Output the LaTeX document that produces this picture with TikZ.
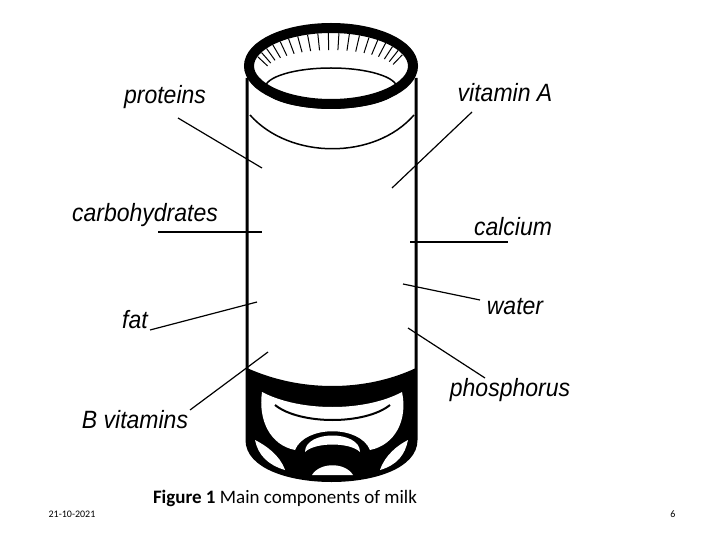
\documentclass[tikz,border=0pt]{standalone}
\usepackage{fontspec}
\setmainfont{Liberation Sans}
\newfontfamily\carlitofont{Carlito}
\begin{document}
\begin{tikzpicture}[x=1pt,y=-1pt,
  lab/.style={font=\itshape\fontsize{25}{27}\selectfont,inner sep=0pt,xscale=0.92},
  ptr/.style={line width=1.2pt}]
\useasboundingbox (0,0) rectangle (720,540);
% bottom dark region
\fill[black] (247,368) .. controls (300,392) and (365,392) .. (416,368) -- (416,440) .. controls (416,494) and (247,494) .. (247,440) -- cycle;
\fill[white] (262,392) .. controls (300,412) and (365,412) .. (402,392) .. controls (408,420) and (395,445) .. (370,450) .. controls (360,425) and (305,425) .. (295,450) .. controls (270,445) and (258,420) .. (262,392) -- cycle;
\fill[white] (305,452) .. controls (305,430) and (360,430) .. (360,452) .. controls (350,442) and (315,442) .. (305,452) -- cycle;
\fill[white] (255,440) .. controls (265,445) and (280,455) .. (285,470) .. controls (268,465) and (258,455) .. (255,440) -- cycle;
\fill[white] (408,440) .. controls (398,445) and (385,455) .. (380,470) .. controls (397,465) and (405,455) .. (408,440) -- cycle;
\fill[white] (312,475) .. controls (320,462) and (345,462) .. (353,475) -- cycle;
\draw[black,line width=2pt] (275,405) .. controls (300,425) and (365,425) .. (390,405);
% body
\draw[line width=3pt] (247,78) -- (247,440) .. controls (247,494) and (416,494) .. (416,440) -- (416,78);
% rim
\draw[line width=10pt] (331,66) ellipse [x radius=82, y radius=38];
\draw[line width=1.5pt] (331,88) ellipse [x radius=66, y radius=20];
\foreach \a in {20,28,...,164}{\draw[line width=1pt] ({331+76*cos(\a)},{66-33*sin(\a)}) -- ({331+66*cos(\a)},{72-22*sin(\a)});}
% meniscus
\draw[line width=1.5pt] (250,115) .. controls (290,160) and (375,160) .. (414,115);
% labels
\node[lab] (p) at (165,97) {proteins};
\node[lab] (va) at (505,93) {vitamin A};
\node[lab] (c) at (145,215) {carbohydrates};
\node[lab] (ca) at (513,227) {calcium};
\node[lab] (f) at (135,320) {fat};
\node[lab] (w) at (515,307) {water};
\node[lab] (b) at (135,420) {B vitamins};
\node[lab] (ph) at (510,390) {phosphorus};
\coordinate (p1) at (262,168); \coordinate (va1) at (392,188);
\coordinate (c1) at (262,232); \coordinate (ca1) at (410,242);
\coordinate (f1) at (257,302); \coordinate (w1) at (403,284);
\coordinate (b1) at (268,352); \coordinate (ph1) at (408,328);
\draw[ptr] (178,118) -- (p1);
\draw[ptr] (472,112) -- (va1);
\draw[ptr] (158,232) -- (c1);
\draw[ptr] (ca1) -- (508,242);
\draw[ptr] (150,330) -- (f1);
\draw[ptr] (w1) -- (480,300);
\draw[ptr] (190,410) -- (b1);
\draw[ptr] (ph1) -- (485,378);
\node[font=\carlitofont\fontsize{10}{12}\selectfont] (d) at (72,514) {21-10-2021};
\node[font=\carlitofont\fontsize{19}{22}\selectfont] (t) at (285,498) {\textbf{Figure 1} Main components of milk};
\node[font=\carlitofont\fontsize{10}{12}\selectfont] (n) at (673,514) {6};
\end{tikzpicture}
\end{document}
